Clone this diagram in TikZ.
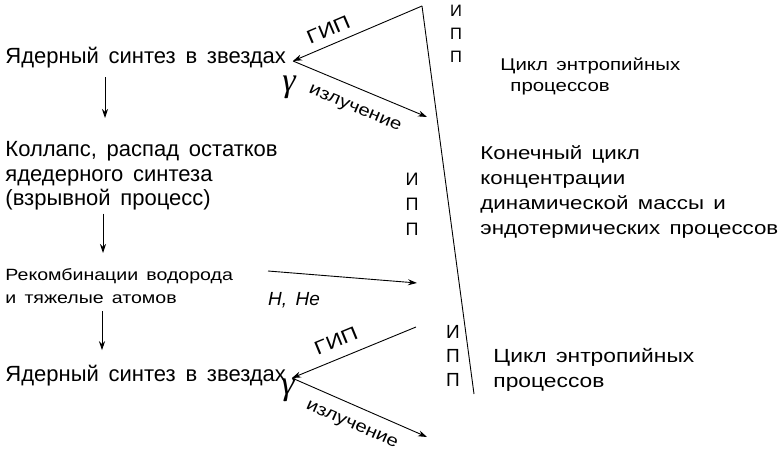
\documentclass[tikz,border=0pt]{standalone}
\usepackage{fontspec}
\setmainfont{Liberation Sans}[WordSpace=1.6]
\newfontfamily\widesans{Liberation Sans}[FakeStretch=1.2, WordSpace=1.5]
\newfontfamily\gamfont{Liberation Serif}
\usetikzlibrary{arrows.meta}
\tikzset{
  txt/.style={inner sep=0pt, align=left},
  big/.style={font=\fontsize{22}{24.5}\selectfont},
  mid/.style={font=\widesans\fontsize{18.6}{25}\selectfont},
  small/.style={font=\widesans\fontsize{16.3}{23}\selectfont},
  ipp/.style={inner sep=0pt, align=center},
  lab/.style={inner sep=0pt, font=\widesans\fontsize{19}{20}\selectfont},
  rad/.style={inner sep=0pt, font=\widesans\fontsize{17}{18}\selectfont},
  gam/.style={inner sep=0pt, font=\gamfont\itshape\fontsize{34}{34}\selectfont}
}
\begin{document}
\begin{tikzpicture}[x=1pt, y=-1pt, line width=0.9pt, >={Stealth[length=9pt,width=6pt]}]
  \useasboundingbox (0,0) rectangle (778,457);
  % Left column
  \node[txt, big, anchor=base west] (syn1) at (5,64) {Ядерный синтез в звездах};
  \node[txt, big, anchor=north west] (col) at (5,141)
    {Коллапс, распад остатков\\ядедерного синтеза\\(взрывной процесс)};
  \node[txt, small, anchor=north west] (rec) at (5,268)
    {Рекомбинации водорода\\и тяжелые атомов};
  \node[txt, big, anchor=base west] (syn2) at (5,381) {Ядерный синтез в звездах};
  % Down arrows
  \draw[->] ([xshift=100pt, yshift=-8pt]syn1.south west) -- ([xshift=100pt, yshift=23pt]col.north west);
  \draw[->] ([xshift=98pt, yshift=-3pt]col.south west) -- ([xshift=98pt, yshift=15pt]rec.north west);
  \draw[->] ([xshift=97pt, yshift=-7pt]rec.south west) -- ([xshift=97pt, yshift=14pt]syn2.north west);
  % Long line
  \coordinate (top) at (422,6);
  \coordinate (bot) at (474,394);
  \draw (top) -- (bot);
  % Upper cycle
  \coordinate (hub1) at (293,61);
  \coordinate (g1) at (427,117);
  \draw[<-] (hub1) -- node[pos=0.32, above=8pt, sloped, lab] {ГИП} (top);
  \draw[->] (hub1) -- node[pos=0.52, below=14pt, sloped, rad] {излучение} (g1);
  \node[gam] (gam1) at (289,87) {γ};
  \node[ipp, anchor=north, font=\fontsize{16.5}{23}\selectfont] (ipp1) at (456,5) {И\\П\\П};
  \node[txt, anchor=north west, font=\widesans\fontsize{17}{21.5}\selectfont] (ent1) at (500,57)
    {Цикл энтропийных\\\hspace*{10pt}процессов};
  % Middle
  \node[ipp, anchor=north, font=\fontsize{18}{25}\selectfont] (ipp2) at (412,173) {И\\П\\П};
  \node[txt, mid, anchor=north west] (fin) at (480,145)
    {Конечный цикл\\концентрации\\динамической массы и\\эндотермических процессов};
  \coordinate (hh) at (417,283);
  \draw[->] ([xshift=263pt, yshift=-3pt]rec.north west) -- (hh);
  \node[inner sep=0pt, font=\fontsize{19}{20}\selectfont\itshape] (hhe) at (294,300) {H, He};
  % Lower cycle
  \coordinate (top2) at (416,327);
  \coordinate (hub2) at (292,378);
  \coordinate (g2) at (427,437);
  \draw[<-] (hub2) -- node[pos=0.41, above=11pt, sloped, lab] {ГИП} (top2);
  \draw[->] (hub2) -- node[pos=0.5, below=13pt, sloped, rad] {излучение} (g2);
  \node[gam] (gam2) at (288,390) {γ};
  \node[ipp, anchor=north, font=\fontsize{19}{24}\selectfont] (ipp3) at (453,325) {И\\П\\П};
  \node[txt, anchor=north west, font=\widesans\fontsize{19}{25}\selectfont] (ent2) at (493,348)
    {Цикл энтропийных\\процессов};
\end{tikzpicture}
\end{document}
